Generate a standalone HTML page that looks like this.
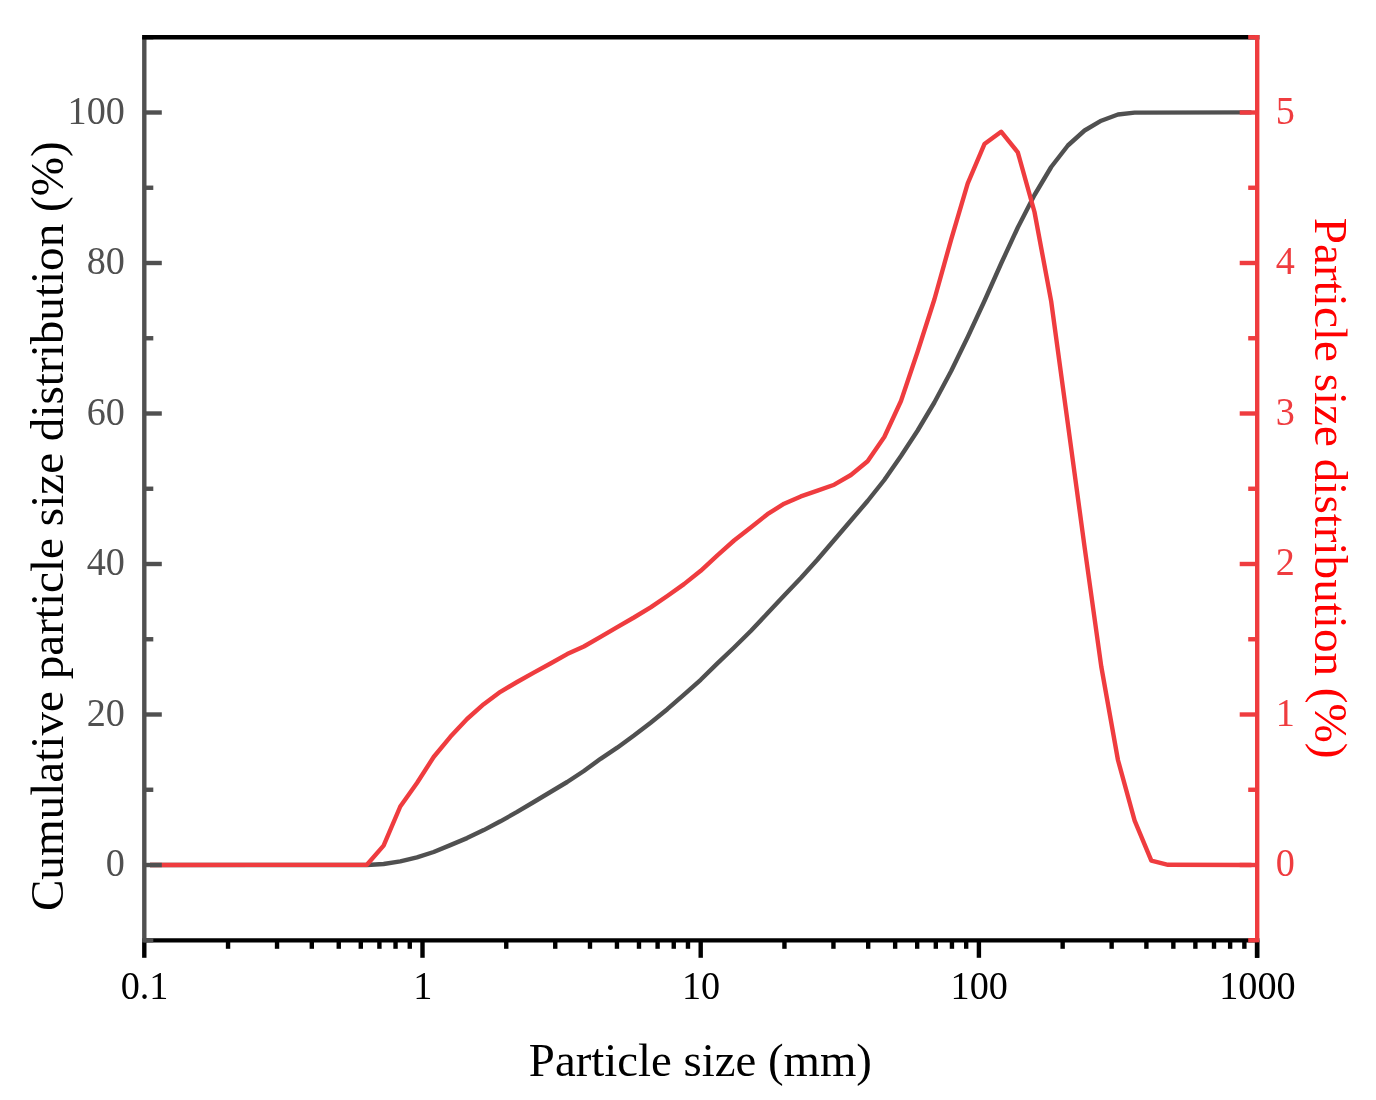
<!DOCTYPE html>
<html><head><meta charset="utf-8"><style>
html,body{margin:0;padding:0;background:#fff;}
svg{display:block;will-change:transform;}
text{font-family:"Liberation Serif",serif;}
</style></head><body>
<svg width="1376" height="1100" viewBox="0 0 1376 1100">
<rect width="1376" height="1100" fill="#fff"/>

<polyline points="149.93,865.00 366.90,865.00 383.59,864.00 400.28,861.40 416.97,857.30 433.66,852.00 450.35,845.10 467.04,838.10 483.73,830.10 500.42,821.30 517.11,811.90 533.80,802.00 550.49,792.00 567.18,782.00 583.87,771.00 600.56,758.80 617.25,747.70 633.94,735.50 650.63,722.70 667.32,709.20 684.01,694.60 700.70,679.80 717.39,663.40 734.08,647.50 750.77,631.00 767.46,613.30 784.15,595.50 800.84,578.00 817.53,559.50 834.22,540.00 850.91,520.50 867.60,501.00 884.29,480.00 900.98,456.00 917.67,430.50 934.36,402.50 951.05,371.30 967.74,337.00 984.43,301.00 1001.12,263.50 1017.81,227.50 1034.50,195.00 1051.19,167.00 1067.88,145.50 1084.57,130.50 1101.26,120.70 1117.95,114.50 1134.64,112.60 1251.47,112.40" fill="none" stroke="#505050" stroke-width="4.4" stroke-linejoin="round"/>
<polyline points="149.93,865.00 366.90,864.80 383.59,845.60 400.28,806.50 416.97,783.00 433.66,757.00 450.35,736.80 467.04,719.00 483.73,704.20 500.42,691.80 517.11,682.00 533.80,672.60 550.49,663.50 567.18,654.10 583.87,646.50 600.56,636.80 617.25,627.10 633.94,617.50 650.63,607.40 667.32,596.00 684.01,584.10 700.70,570.80 717.39,555.30 734.08,540.50 750.77,527.50 767.46,514.20 784.15,503.70 800.84,496.40 817.53,490.70 834.22,484.70 850.91,475.00 867.60,461.20 884.29,437.00 900.98,401.00 917.67,351.50 934.36,299.50 951.05,239.80 967.74,183.30 984.43,144.10 1001.12,131.70 1017.81,152.30 1034.50,212.00 1051.19,301.40 1067.88,424.00 1084.57,547.00 1101.26,666.50 1117.95,760.00 1134.64,820.70 1151.33,860.70 1168.02,864.80 1251.47,865.00" fill="none" stroke="#EF3C3F" stroke-width="4.4" stroke-linejoin="round"/>
<line x1="142.10000000000002" y1="940.4" x2="1259.4" y2="940.4" stroke="#000" stroke-width="4.4"/>
<line x1="144.30" y1="940.4" x2="144.30" y2="957.8" stroke="#000" stroke-width="4.4"/>
<line x1="228.05" y1="940.4" x2="228.05" y2="948.8" stroke="#000" stroke-width="4.4"/>
<line x1="277.04" y1="940.4" x2="277.04" y2="948.8" stroke="#000" stroke-width="4.4"/>
<line x1="311.79" y1="940.4" x2="311.79" y2="948.8" stroke="#000" stroke-width="4.4"/>
<line x1="338.75" y1="940.4" x2="338.75" y2="948.8" stroke="#000" stroke-width="4.4"/>
<line x1="360.78" y1="940.4" x2="360.78" y2="948.8" stroke="#000" stroke-width="4.4"/>
<line x1="379.41" y1="940.4" x2="379.41" y2="948.8" stroke="#000" stroke-width="4.4"/>
<line x1="395.54" y1="940.4" x2="395.54" y2="948.8" stroke="#000" stroke-width="4.4"/>
<line x1="409.77" y1="940.4" x2="409.77" y2="948.8" stroke="#000" stroke-width="4.4"/>
<line x1="422.50" y1="940.4" x2="422.50" y2="957.8" stroke="#000" stroke-width="4.4"/>
<line x1="506.25" y1="940.4" x2="506.25" y2="948.8" stroke="#000" stroke-width="4.4"/>
<line x1="555.24" y1="940.4" x2="555.24" y2="948.8" stroke="#000" stroke-width="4.4"/>
<line x1="589.99" y1="940.4" x2="589.99" y2="948.8" stroke="#000" stroke-width="4.4"/>
<line x1="616.95" y1="940.4" x2="616.95" y2="948.8" stroke="#000" stroke-width="4.4"/>
<line x1="638.98" y1="940.4" x2="638.98" y2="948.8" stroke="#000" stroke-width="4.4"/>
<line x1="657.61" y1="940.4" x2="657.61" y2="948.8" stroke="#000" stroke-width="4.4"/>
<line x1="673.74" y1="940.4" x2="673.74" y2="948.8" stroke="#000" stroke-width="4.4"/>
<line x1="687.97" y1="940.4" x2="687.97" y2="948.8" stroke="#000" stroke-width="4.4"/>
<line x1="700.70" y1="940.4" x2="700.70" y2="957.8" stroke="#000" stroke-width="4.4"/>
<line x1="784.45" y1="940.4" x2="784.45" y2="948.8" stroke="#000" stroke-width="4.4"/>
<line x1="833.44" y1="940.4" x2="833.44" y2="948.8" stroke="#000" stroke-width="4.4"/>
<line x1="868.19" y1="940.4" x2="868.19" y2="948.8" stroke="#000" stroke-width="4.4"/>
<line x1="895.15" y1="940.4" x2="895.15" y2="948.8" stroke="#000" stroke-width="4.4"/>
<line x1="917.18" y1="940.4" x2="917.18" y2="948.8" stroke="#000" stroke-width="4.4"/>
<line x1="935.81" y1="940.4" x2="935.81" y2="948.8" stroke="#000" stroke-width="4.4"/>
<line x1="951.94" y1="940.4" x2="951.94" y2="948.8" stroke="#000" stroke-width="4.4"/>
<line x1="966.17" y1="940.4" x2="966.17" y2="948.8" stroke="#000" stroke-width="4.4"/>
<line x1="978.90" y1="940.4" x2="978.90" y2="957.8" stroke="#000" stroke-width="4.4"/>
<line x1="1062.65" y1="940.4" x2="1062.65" y2="948.8" stroke="#000" stroke-width="4.4"/>
<line x1="1111.64" y1="940.4" x2="1111.64" y2="948.8" stroke="#000" stroke-width="4.4"/>
<line x1="1146.39" y1="940.4" x2="1146.39" y2="948.8" stroke="#000" stroke-width="4.4"/>
<line x1="1173.35" y1="940.4" x2="1173.35" y2="948.8" stroke="#000" stroke-width="4.4"/>
<line x1="1195.38" y1="940.4" x2="1195.38" y2="948.8" stroke="#000" stroke-width="4.4"/>
<line x1="1214.01" y1="940.4" x2="1214.01" y2="948.8" stroke="#000" stroke-width="4.4"/>
<line x1="1230.14" y1="940.4" x2="1230.14" y2="948.8" stroke="#000" stroke-width="4.4"/>
<line x1="1244.37" y1="940.4" x2="1244.37" y2="948.8" stroke="#000" stroke-width="4.4"/>
<line x1="1257.10" y1="940.4" x2="1257.10" y2="957.8" stroke="#000" stroke-width="4.4"/>
<line x1="144.3" y1="37.05" x2="144.3" y2="942.6" stroke="#505050" stroke-width="4.4"/>
<line x1="144.3" y1="940.25" x2="153.3" y2="940.25" stroke="#505050" stroke-width="4.4"/>
<line x1="144.3" y1="865.00" x2="161.8" y2="865.00" stroke="#505050" stroke-width="4.4"/>
<line x1="144.3" y1="789.75" x2="153.3" y2="789.75" stroke="#505050" stroke-width="4.4"/>
<line x1="144.3" y1="714.50" x2="161.8" y2="714.50" stroke="#505050" stroke-width="4.4"/>
<line x1="144.3" y1="639.25" x2="153.3" y2="639.25" stroke="#505050" stroke-width="4.4"/>
<line x1="144.3" y1="564.00" x2="161.8" y2="564.00" stroke="#505050" stroke-width="4.4"/>
<line x1="144.3" y1="488.75" x2="153.3" y2="488.75" stroke="#505050" stroke-width="4.4"/>
<line x1="144.3" y1="413.50" x2="161.8" y2="413.50" stroke="#505050" stroke-width="4.4"/>
<line x1="144.3" y1="338.25" x2="153.3" y2="338.25" stroke="#505050" stroke-width="4.4"/>
<line x1="144.3" y1="263.00" x2="161.8" y2="263.00" stroke="#505050" stroke-width="4.4"/>
<line x1="144.3" y1="187.75" x2="153.3" y2="187.75" stroke="#505050" stroke-width="4.4"/>
<line x1="144.3" y1="112.50" x2="161.8" y2="112.50" stroke="#505050" stroke-width="4.4"/>
<line x1="144.3" y1="37.25" x2="153.3" y2="37.25" stroke="#505050" stroke-width="4.4"/>
<line x1="142.10000000000002" y1="37.25" x2="1259.4" y2="37.25" stroke="#000" stroke-width="4.4"/>
<line x1="1257.2" y1="35.05" x2="1257.2" y2="942.6" stroke="#EF3C3F" stroke-width="4.4"/>
<line x1="1257.2" y1="940.25" x2="1248.2" y2="940.25" stroke="#EF3C3F" stroke-width="4.4"/>
<line x1="1257.2" y1="865.00" x2="1239.7" y2="865.00" stroke="#EF3C3F" stroke-width="4.4"/>
<line x1="1257.2" y1="789.75" x2="1248.2" y2="789.75" stroke="#EF3C3F" stroke-width="4.4"/>
<line x1="1257.2" y1="714.50" x2="1239.7" y2="714.50" stroke="#EF3C3F" stroke-width="4.4"/>
<line x1="1257.2" y1="639.25" x2="1248.2" y2="639.25" stroke="#EF3C3F" stroke-width="4.4"/>
<line x1="1257.2" y1="564.00" x2="1239.7" y2="564.00" stroke="#EF3C3F" stroke-width="4.4"/>
<line x1="1257.2" y1="488.75" x2="1248.2" y2="488.75" stroke="#EF3C3F" stroke-width="4.4"/>
<line x1="1257.2" y1="413.50" x2="1239.7" y2="413.50" stroke="#EF3C3F" stroke-width="4.4"/>
<line x1="1257.2" y1="338.25" x2="1248.2" y2="338.25" stroke="#EF3C3F" stroke-width="4.4"/>
<line x1="1257.2" y1="263.00" x2="1239.7" y2="263.00" stroke="#EF3C3F" stroke-width="4.4"/>
<line x1="1257.2" y1="187.75" x2="1248.2" y2="187.75" stroke="#EF3C3F" stroke-width="4.4"/>
<line x1="1257.2" y1="112.50" x2="1239.7" y2="112.50" stroke="#EF3C3F" stroke-width="4.4"/>
<line x1="1257.2" y1="37.25" x2="1248.2" y2="37.25" stroke="#EF3C3F" stroke-width="4.4"/>
<line x1="1257.10" y1="942.6" x2="1257.10" y2="957.8" stroke="#000" stroke-width="4.4"/>
<text transform="translate(124.9,876.40) scale(1,1.027)" font-size="38.2" fill="#505050" text-anchor="end">0</text>
<text transform="translate(124.9,725.90) scale(1,1.027)" font-size="38.2" fill="#505050" text-anchor="end">20</text>
<text transform="translate(124.9,575.40) scale(1,1.027)" font-size="38.2" fill="#505050" text-anchor="end">40</text>
<text transform="translate(124.9,424.90) scale(1,1.027)" font-size="38.2" fill="#505050" text-anchor="end">60</text>
<text transform="translate(124.9,274.40) scale(1,1.027)" font-size="38.2" fill="#505050" text-anchor="end">80</text>
<text transform="translate(124.9,123.90) scale(1,1.027)" font-size="38.2" fill="#505050" text-anchor="end">100</text>
<text transform="translate(1275.7,876.40) scale(1,1.027)" font-size="38.2" fill="#EF3C3F">0</text>
<text transform="translate(1275.7,725.90) scale(1,1.027)" font-size="38.2" fill="#EF3C3F">1</text>
<text transform="translate(1275.7,575.40) scale(1,1.027)" font-size="38.2" fill="#EF3C3F">2</text>
<text transform="translate(1275.7,424.90) scale(1,1.027)" font-size="38.2" fill="#EF3C3F">3</text>
<text transform="translate(1275.7,274.40) scale(1,1.027)" font-size="38.2" fill="#EF3C3F">4</text>
<text transform="translate(1275.7,123.90) scale(1,1.027)" font-size="38.2" fill="#EF3C3F">5</text>
<text transform="translate(144.60,999.4) scale(1,1.027)" font-size="38.2" fill="#000" text-anchor="middle">0.1</text>
<text transform="translate(422.80,999.4) scale(1,1.027)" font-size="38.2" fill="#000" text-anchor="middle">1</text>
<text transform="translate(701.00,999.4) scale(1,1.027)" font-size="38.2" fill="#000" text-anchor="middle">10</text>
<text transform="translate(979.20,999.4) scale(1,1.027)" font-size="38.2" fill="#000" text-anchor="middle">100</text>
<text transform="translate(1257.40,999.4) scale(1,1.027)" font-size="38.2" fill="#000" text-anchor="middle">1000</text>
<text x="700.4" y="1075.9" font-size="46.8" fill="#000" text-anchor="middle">Particle size (mm)</text>
<text transform="translate(62.6,526.2) rotate(-90)" font-size="47.15" fill="#000" text-anchor="middle">Cumulative particle size distribution (%)</text>
<text transform="translate(1315.1,488.2) rotate(90)" font-size="47.15" fill="#FF0000" text-anchor="middle">Particle size distribution (%)</text>
</svg>
</body></html>
